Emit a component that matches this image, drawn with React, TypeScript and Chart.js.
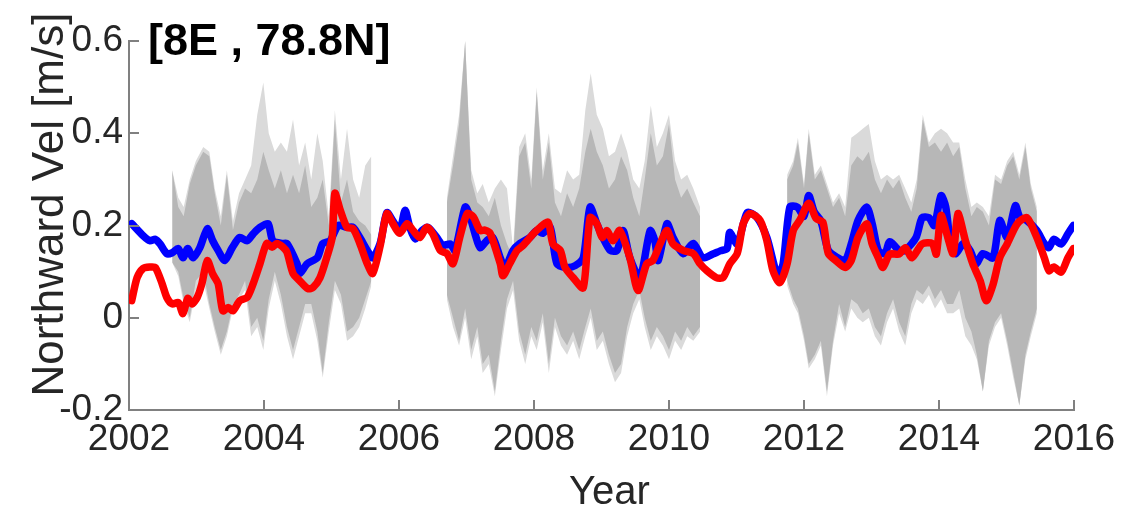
import React, { useEffect, useRef } from "react";
import { Chart, registerables } from "chart.js";

Chart.register(...registerables);

// ---------- data ----------
const blueYears = [2002.04,2002.21,2002.31,2002.39,2002.46,2002.56,2002.64,2002.73,2002.80,2002.87,2002.95,2003.05,2003.16,2003.24,2003.32,2003.42,2003.53,2003.64,2003.75,2003.84,2003.94,2004.06,2004.13,2004.27,2004.34,2004.49,2004.53,2004.64,2004.79,2004.87,2004.98,2005.10,2005.23,2005.32,2005.42,2005.53,2005.61,2005.72,2005.82,2005.91,2006.01,2006.09,2006.16,2006.24,2006.34,2006.43,2006.56,2006.65,2006.76,2006.83,2006.98,2007.05,2007.13,2007.20,2007.30,2007.39,2007.50,2007.57,2007.69,2007.79,2007.94,2008.04,2008.13,2008.24,2008.34,2008.49,2008.61,2008.73,2008.83,2008.93,2009.02,2009.13,2009.23,2009.32,2009.42,2009.57,2009.72,2009.79,2009.84,2009.97,2010.06,2010.21,2010.36,2010.50,2010.65,2010.76,2010.86,2010.90,2011.01,2011.16,2011.30,2011.45,2011.61,2011.69,2011.79,2011.90,2012.00,2012.07,2012.15,2012.25,2012.36,2012.50,2012.61,2012.70,2012.80,2012.93,2013.01,2013.10,2013.20,2013.27,2013.41,2013.50,2013.66,2013.75,2013.85,2013.93,2014.03,2014.10,2014.18,2014.25,2014.36,2014.46,2014.55,2014.65,2014.80,2014.90,2015.01,2015.13,2015.20,2015.30,2015.45,2015.56,2015.63,2015.70,2015.81,2015.91,2015.99];
const blueVel = [0.204,0.178,0.167,0.17,0.16,0.139,0.141,0.15,0.13,0.15,0.13,0.152,0.193,0.167,0.146,0.124,0.152,0.174,0.167,0.182,0.196,0.204,0.167,0.161,0.161,0.117,0.096,0.117,0.13,0.161,0.167,0.2,0.196,0.196,0.174,0.146,0.13,0.161,0.228,0.21,0.189,0.233,0.196,0.171,0.189,0.196,0.174,0.157,0.16,0.146,0.24,0.22,0.18,0.152,0.167,0.174,0.13,0.107,0.146,0.161,0.174,0.189,0.183,0.196,0.117,0.109,0.113,0.13,0.24,0.204,0.174,0.146,0.146,0.189,0.13,0.087,0.189,0.167,0.124,0.204,0.174,0.139,0.161,0.13,0.138,0.145,0.15,0.185,0.16,0.228,0.218,0.174,0.091,0.117,0.24,0.24,0.22,0.265,0.23,0.21,0.146,0.13,0.124,0.16,0.211,0.24,0.204,0.146,0.139,0.165,0.146,0.146,0.174,0.217,0.217,0.2,0.265,0.24,0.152,0.139,0.161,0.146,0.117,0.139,0.13,0.211,0.174,0.243,0.217,0.211,0.189,0.161,0.152,0.17,0.16,0.182,0.2];

const redYears = [2002.04,2002.12,2002.21,2002.31,2002.39,2002.49,2002.56,2002.64,2002.73,2002.80,2002.87,2002.93,2003.01,2003.08,2003.16,2003.24,2003.32,2003.39,2003.47,2003.54,2003.64,2003.75,2003.84,2003.94,2004.04,2004.12,2004.19,2004.28,2004.34,2004.43,2004.53,2004.65,2004.73,2004.83,2004.93,2005.01,2005.05,2005.13,2005.23,2005.32,2005.42,2005.53,2005.61,2005.72,2005.82,2005.91,2006.01,2006.12,2006.21,2006.31,2006.41,2006.50,2006.61,2006.71,2006.80,2006.90,2007.01,2007.10,2007.20,2007.27,2007.35,2007.50,2007.54,2007.64,2007.75,2007.84,2007.99,2008.09,2008.21,2008.28,2008.39,2008.46,2008.58,2008.73,2008.83,2008.93,2009.01,2009.08,2009.17,2009.27,2009.42,2009.54,2009.67,2009.76,2009.87,2009.97,2010.06,2010.21,2010.36,2010.46,2010.56,2010.70,2010.80,2010.90,2011.01,2011.10,2011.20,2011.35,2011.45,2011.54,2011.64,2011.75,2011.84,2011.94,2012.07,2012.18,2012.28,2012.36,2012.47,2012.61,2012.70,2012.80,2012.93,2013.01,2013.10,2013.17,2013.27,2013.41,2013.50,2013.60,2013.75,2013.90,2013.96,2014.03,2014.13,2014.21,2014.28,2014.39,2014.50,2014.61,2014.70,2014.80,2014.90,2015.01,2015.16,2015.30,2015.45,2015.56,2015.63,2015.70,2015.81,2015.91,2015.99];
const redVel = [0.037,0.087,0.107,0.11,0.109,0.074,0.044,0.03,0.033,0.009,0.042,0.03,0.044,0.074,0.124,0.095,0.074,0.015,0.022,0.015,0.037,0.044,0.074,0.117,0.161,0.153,0.161,0.153,0.142,0.096,0.08,0.063,0.066,0.087,0.131,0.174,0.27,0.233,0.196,0.193,0.161,0.117,0.096,0.155,0.226,0.204,0.183,0.204,0.189,0.174,0.196,0.182,0.146,0.139,0.117,0.174,0.226,0.219,0.189,0.19,0.183,0.117,0.091,0.117,0.146,0.157,0.182,0.196,0.207,0.16,0.146,0.109,0.087,0.065,0.217,0.204,0.174,0.189,0.167,0.189,0.13,0.059,0.117,0.124,0.161,0.189,0.16,0.146,0.139,0.117,0.102,0.087,0.087,0.117,0.139,0.204,0.226,0.211,0.167,0.102,0.076,0.117,0.189,0.212,0.248,0.215,0.207,0.139,0.124,0.109,0.124,0.174,0.204,0.16,0.13,0.109,0.138,0.138,0.152,0.13,0.16,0.161,0.138,0.222,0.174,0.139,0.226,0.168,0.117,0.08,0.037,0.072,0.13,0.16,0.204,0.217,0.174,0.13,0.102,0.11,0.099,0.13,0.15];

// grey envelopes, three observation periods
const bandYearsA = [2002.64,2002.73,2002.81,2002.90,2002.99,2003.10,2003.19,2003.27,2003.36,2003.45,2003.54,2003.63,2003.72,2003.81,2003.90,2003.99,2004.07,2004.16,2004.25,2004.34,2004.43,2004.52,2004.61,2004.70,2004.79,2004.87,2004.96,2005.05,2005.14,2005.23,2005.32,2005.41,2005.50,2005.59];
const darkHiA = [0.32,0.24,0.22,0.29,0.33,0.36,0.35,0.27,0.20,0.31,0.19,0.25,0.28,0.27,0.30,0.36,0.32,0.28,0.32,0.27,0.31,0.27,0.33,0.24,0.26,0.30,0.20,0.43,0.25,0.30,0.23,0.21,0.20,0.18];
const darkLoA = [0.12,0.10,0.04,0.00,0.08,0.10,0.03,-0.02,-0.07,-0.03,0.03,0.05,0.08,-0.02,0.00,-0.05,0.04,0.10,0.05,-0.02,-0.07,-0.02,0.03,0.03,-0.03,-0.12,-0.01,0.08,0.05,-0.03,-0.02,0.00,0.04,0.08];
const lightHiA = [0.32,0.26,0.24,0.30,0.34,0.37,0.36,0.28,0.22,0.32,0.21,0.27,0.30,0.33,0.44,0.51,0.40,0.36,0.38,0.36,0.43,0.33,0.38,0.30,0.40,0.34,0.22,0.45,0.30,0.41,0.30,0.26,0.33,0.35];
const lightLoA = [0.12,0.09,0.03,-0.01,0.06,0.08,0.02,-0.03,-0.08,-0.04,0.02,0.04,0.06,-0.04,-0.02,-0.07,0.02,0.08,0.03,-0.04,-0.09,-0.04,0.01,0.01,-0.05,-0.13,-0.03,0.06,0.03,-0.05,-0.04,-0.02,0.02,0.07];

const bandYearsB = [2006.71,2006.80,2006.89,2006.98,2007.07,2007.16,2007.24,2007.33,2007.42,2007.51,2007.60,2007.69,2007.78,2007.87,2007.96,2008.04,2008.13,2008.22,2008.31,2008.40,2008.49,2008.58,2008.67,2008.76,2008.84,2008.93,2009.02,2009.11,2009.20,2009.29,2009.38,2009.47,2009.56,2009.64,2009.73,2009.82,2009.91,2010.00,2010.09,2010.18,2010.27,2010.36,2010.46];
const darkHiB = [0.25,0.33,0.42,0.60,0.30,0.25,0.24,0.22,0.26,0.20,0.16,0.13,0.35,0.38,0.28,0.49,0.30,0.38,0.25,0.22,0.27,0.24,0.28,0.36,0.41,0.36,0.33,0.28,0.30,0.35,0.32,0.26,0.22,0.30,0.40,0.33,0.35,0.42,0.30,0.26,0.28,0.25,0.22];
const darkLoB = [0.05,0.00,-0.05,0.02,-0.07,-0.02,-0.10,-0.08,-0.16,-0.05,0.04,0.08,-0.03,-0.08,-0.02,-0.05,0.01,-0.10,0.00,-0.04,-0.06,-0.03,-0.07,-0.02,0.02,-0.05,-0.03,-0.08,-0.12,-0.10,-0.02,0.03,0.06,0.00,-0.05,-0.02,-0.04,-0.07,-0.03,-0.05,-0.02,-0.04,-0.02];
const lightHiB = [0.26,0.35,0.44,0.60,0.32,0.27,0.29,0.25,0.28,0.30,0.28,0.15,0.37,0.40,0.30,0.50,0.32,0.40,0.28,0.27,0.32,0.30,0.31,0.45,0.53,0.44,0.41,0.35,0.36,0.40,0.36,0.30,0.28,0.34,0.46,0.37,0.40,0.44,0.34,0.30,0.31,0.28,0.24];
const lightLoB = [0.04,-0.02,-0.06,0.00,-0.09,-0.04,-0.12,-0.10,-0.17,-0.07,0.02,0.06,-0.05,-0.10,-0.04,-0.07,-0.01,-0.12,-0.02,-0.06,-0.08,-0.05,-0.09,-0.04,0.00,-0.07,-0.05,-0.10,-0.14,-0.12,-0.04,0.01,0.04,-0.02,-0.07,-0.04,-0.06,-0.09,-0.05,-0.07,-0.04,-0.05,-0.03];

const bandYearsC = [2011.75,2011.84,2011.91,2012.00,2012.07,2012.16,2012.25,2012.34,2012.43,2012.52,2012.61,2012.70,2012.79,2012.87,2012.96,2013.05,2013.14,2013.23,2013.32,2013.41,2013.50,2013.59,2013.67,2013.76,2013.85,2013.94,2014.03,2014.12,2014.21,2014.30,2014.39,2014.48,2014.56,2014.65,2014.74,2014.83,2014.92,2015.01,2015.10,2015.19,2015.28,2015.36,2015.45];
const darkHiC = [0.30,0.33,0.38,0.28,0.40,0.30,0.32,0.28,0.24,0.26,0.22,0.33,0.35,0.34,0.36,0.30,0.27,0.30,0.28,0.30,0.26,0.23,0.28,0.43,0.37,0.38,0.36,0.38,0.35,0.37,0.28,0.22,0.24,0.23,0.20,0.30,0.29,0.33,0.35,0.30,0.37,0.28,0.23];
const darkLoC = [0.08,0.04,0.02,-0.04,-0.10,-0.08,-0.05,-0.16,-0.05,0.03,-0.02,0.04,0.03,0.01,0.02,-0.02,-0.04,0.01,0.04,-0.01,-0.04,0.03,0.06,0.05,0.07,0.04,0.06,0.03,0.03,0.06,0.00,-0.03,-0.08,-0.16,-0.05,-0.01,0.01,-0.05,-0.12,-0.19,-0.08,-0.03,0.02];
const lightHiC = [0.31,0.34,0.39,0.29,0.41,0.31,0.33,0.29,0.25,0.27,0.24,0.39,0.40,0.41,0.42,0.34,0.30,0.31,0.30,0.31,0.28,0.25,0.30,0.44,0.38,0.40,0.41,0.40,0.38,0.38,0.30,0.24,0.25,0.24,0.22,0.31,0.30,0.34,0.36,0.31,0.38,0.29,0.24];
const lightLoC = [0.07,0.03,0.01,-0.05,-0.11,-0.09,-0.06,-0.17,-0.06,0.01,-0.03,0.02,0.00,-0.01,0.00,-0.04,-0.06,-0.01,0.02,-0.03,-0.06,0.01,0.04,0.03,0.05,0.02,0.04,0.01,0.01,0.02,-0.04,-0.06,-0.09,-0.16,-0.06,-0.02,0.00,-0.06,-0.13,-0.19,-0.09,-0.04,0.01];

const gapYears = [2006.15, 2011.1];

const xTickValues = [2002, 2004, 2006, 2008, 2010, 2012, 2014, 2016];
const xTickLabels = ["2002", "2004", "2006", "2008", "2010", "2012", "2014", "2016"];
const yTickValues = [-0.2, 0, 0.2, 0.4, 0.6];
const yTickLabels = ["-0.2", "0", "0.2", "0.4", "0.6"];

const titleText = "[8E , 78.8N]";
const xTitle = "Year";
const yTitle = "Northward Vel [m/s]";

// ---------- helpers ----------
type Pt = { x: number; y: number | null };
const toPts = (xs: number[], ys: (number | null)[]): Pt[] => xs.map((x, i) => ({ x, y: ys[i] }));

function joinBand(a: number[], b: number[], c: number[]): Pt[] {
  return [
    ...toPts(bandYearsA, a),
    { x: gapYears[0], y: null },
    ...toPts(bandYearsB, b),
    { x: gapYears[1], y: null },
    ...toPts(bandYearsC, c),
  ];
}

const FONT = "'Liberation Sans', Helvetica, Arial, sans-serif";
const AXIS_COLOR = "#808080";
const TEXT_COLOR = "#262626";

const innerTicks = {
  id: "innerTicks",
  afterDraw(chart: any) {
    const { ctx, chartArea, scales } = chart;
    ctx.save();
    ctx.strokeStyle = AXIS_COLOR;
    ctx.lineWidth = 2;
    ctx.beginPath();
    scales.x.ticks.forEach((t: any) => {
      const px = Math.round(scales.x.getPixelForValue(t.value));
      ctx.moveTo(px, chartArea.bottom);
      ctx.lineTo(px, chartArea.bottom - 10);
    });
    scales.y.ticks.forEach((t: any) => {
      const py = Math.round(scales.y.getPixelForValue(t.value));
      ctx.moveTo(chartArea.left, py);
      ctx.lineTo(chartArea.left + 10, py);
    });
    ctx.stroke();

    // title
    ctx.fillStyle = "#000";
    ctx.font = `bold 45px ${FONT}`;
    ctx.textAlign = "left";
    ctx.textBaseline = "alphabetic";
    ctx.fillText(titleText, chartArea.left + 19, chartArea.top + 14);

    // x title
    ctx.fillStyle = TEXT_COLOR;
    ctx.font = `40px ${FONT}`;
    ctx.textAlign = "center";
    ctx.fillText(xTitle, (chartArea.left + chartArea.right) / 2 + 8, chartArea.bottom + 94);

    // y title
    ctx.save();
    ctx.translate(chartArea.left - 66, (chartArea.top + chartArea.bottom) / 2 - 21);
    ctx.rotate(-Math.PI / 2);
    ctx.font = `44px ${FONT}`;
    ctx.textAlign = "center";
    ctx.fillText(yTitle, 0, 0);
    ctx.restore();
    ctx.restore();
  },
};

export default function App() {
  const ref = useRef<HTMLCanvasElement | null>(null);

  useEffect(() => {
    document.body.style.margin = "0";
    if (!ref.current) return;
    const bandStyle = {
      borderWidth: 0,
      pointRadius: 0,
      tension: 0,
      spanGaps: false,
    };
    const lineStyle = {
      borderWidth: 7.5,
      pointRadius: 0,
      tension: 0.25,
      fill: false,
      borderCapStyle: "round",
      borderJoinStyle: "round",
    };
    const chart = new Chart(ref.current, {
      type: "line",
      data: {
        datasets: [
          { label: "red", data: toPts(redYears, redVel), borderColor: "#ff0000", ...lineStyle },
          { label: "blue", data: toPts(blueYears, blueVel), borderColor: "#0000ff", ...lineStyle },
          {
            label: "darkHi",
            data: joinBand(darkHiA, darkHiB, darkHiC),
            ...bandStyle,
            borderColor: "rgba(0,0,0,0)",
            backgroundColor: "#b7b7b7",
            fill: "+1",
          },
          {
            label: "darkLo",
            data: joinBand(darkLoA, darkLoB, darkLoC),
            ...bandStyle,
            borderColor: "rgba(0,0,0,0)",
            fill: false,
          },
          {
            label: "lightHi",
            data: joinBand(lightHiA, lightHiB, lightHiC),
            ...bandStyle,
            borderColor: "rgba(0,0,0,0)",
            backgroundColor: "#dadada",
            fill: "+1",
          },
          {
            label: "lightLo",
            data: joinBand(lightLoA, lightLoB, lightLoC),
            ...bandStyle,
            borderColor: "rgba(0,0,0,0)",
            fill: false,
          },
        ] as any,
      },
      options: {
        animation: false,
        responsive: false,
        devicePixelRatio: 1,
        layout: { padding: { top: 41, right: 58, left: 0, bottom: 0 } },
        plugins: {
          legend: { display: false },
          tooltip: { enabled: false },
          title: { display: false },
        },
        scales: {
          x: {
            type: "linear",
            min: 2002,
            max: 2016,
            afterBuildTicks: (s: any) => {
              s.ticks = xTickValues.map((v) => ({ value: v }));
            },
            afterFit: (s: any) => {
              s.height = 98;
            },
            ticks: {
              callback: (v: any) => xTickLabels[xTickValues.indexOf(Number(v))] ?? "",
              font: { family: FONT, size: 37 },
              color: TEXT_COLOR,
              padding: 8,
              maxRotation: 0,
              autoSkip: false,
            },
            grid: { display: false, drawTicks: false },
            border: { display: true, color: AXIS_COLOR, width: 2 },
          },
          y: {
            type: "linear",
            min: -0.2,
            max: 0.6,
            afterBuildTicks: (s: any) => {
              s.ticks = yTickValues.map((v) => ({ value: v }));
            },
            afterFit: (s: any) => {
              s.width = 129;
            },
            ticks: {
              callback: (v: any) => {
                const i = yTickValues.findIndex((t) => Math.abs(t - Number(v)) < 1e-6);
                return i >= 0 ? yTickLabels[i] : "";
              },
              font: { family: FONT, size: 37 },
              color: TEXT_COLOR,
              padding: 6,
              autoSkip: false,
            },
            grid: { display: false, drawTicks: false },
            border: { display: true, color: AXIS_COLOR, width: 2 },
          },
        },
      },
      plugins: [innerTicks],
    });
    return () => chart.destroy();
  }, []);

  return (
    <div style={{ width: 1132, height: 508, background: "#fff" }}>
      <canvas ref={ref} width={1132} height={508} />
    </div>
  );
}
